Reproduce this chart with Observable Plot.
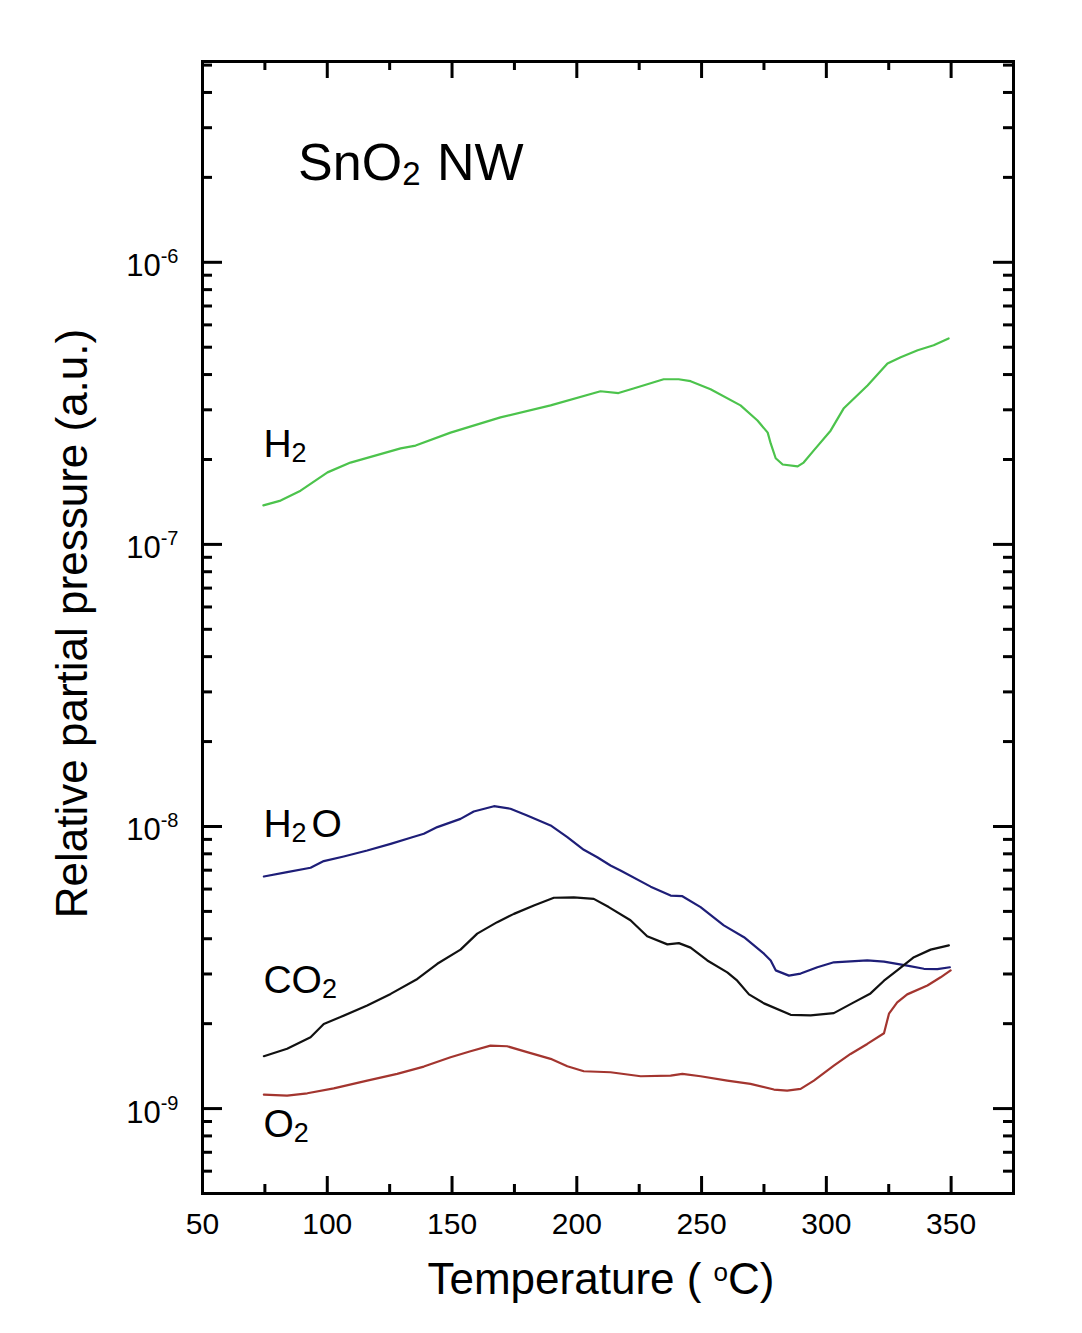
<!DOCTYPE html>
<html><head><meta charset="utf-8">
<script src="https://cdn.jsdelivr.net/npm/d3@7"></script>
<script src="https://cdn.jsdelivr.net/npm/@observablehq/plot@0.6"></script>
<style>
html,body{margin:0;padding:0;background:#fff}
#chart svg{display:block}
</style>
</head><body><div id="chart"></div>
<script>
// ---- data ----
const h2Temp = [74.4,81.3,89.3,100.1,109.3,129.4,135.4,149.4,169.4,189.5,209.5,216.7,222.7,234.8,240.8,245.6,253.6,265.6,272.4,276.5,277.7,279.7,282.5,288.5,290.9,294.9,301.7,306.9,316.5,324.5,329.8,336.6,343.0,349.0];
const h2Val  = [1.375e-7,1.43e-7,1.55e-7,1.80e-7,1.95e-7,2.19e-7,2.24e-7,2.49e-7,2.82e-7,3.11e-7,3.49e-7,3.44e-7,3.57e-7,3.85e-7,3.85e-7,3.79e-7,3.55e-7,3.11e-7,2.75e-7,2.49e-7,2.28e-7,2.02e-7,1.92e-7,1.89e-7,1.95e-7,2.15e-7,2.53e-7,3.03e-7,3.66e-7,4.38e-7,4.61e-7,4.88e-7,5.08e-7,5.37e-7];

const h2oTemp = [74.6,83.9,93.3,98.6,106.6,116.0,125.4,133.4,138.7,144.1,153.4,158.7,166.8,173.4,180.1,189.5,196.2,202.8,208.2,213.5,217.5,229.6,237.6,242.3,249.6,258.9,267.0,275.0,277.7,279.7,285.0,289.7,296.4,303.0,316.4,323.1,332.4,339.1,344.5,349.5];
const h2oVal  = [6.65e-9,6.89e-9,7.14e-9,7.54e-9,7.83e-9,8.22e-9,8.68e-9,9.12e-9,9.42e-9,9.95e-9,1.064e-8,1.13e-8,1.18e-8,1.156e-8,1.094e-8,1.009e-8,9.17e-9,8.27e-9,7.78e-9,7.27e-9,6.98e-9,6.12e-9,5.69e-9,5.66e-9,5.18e-9,4.46e-9,4.05e-9,3.54e-9,3.35e-9,3.09e-9,2.96e-9,3.01e-9,3.17e-9,3.30e-9,3.35e-9,3.32e-9,3.21e-9,3.13e-9,3.12e-9,3.17e-9];

const co2Temp = [74.6,83.9,93.3,98.6,105.3,116.0,125.4,136.1,144.1,153.4,160.1,168.1,174.8,182.8,190.8,198.8,206.8,212.8,221.5,228.2,236.3,240.9,245.6,252.3,260.3,264.3,269.0,275.0,285.7,293.7,303.0,311.0,317.7,323.1,328.4,335.1,341.8,349.1];
const co2Val  = [1.533e-9,1.629e-9,1.791e-9,1.996e-9,2.11e-9,2.32e-9,2.55e-9,2.88e-9,3.26e-9,3.66e-9,4.17e-9,4.58e-9,4.90e-9,5.25e-9,5.59e-9,5.61e-9,5.54e-9,5.18e-9,4.65e-9,4.08e-9,3.82e-9,3.86e-9,3.72e-9,3.35e-9,3.04e-9,2.84e-9,2.54e-9,2.36e-9,2.15e-9,2.14e-9,2.18e-9,2.38e-9,2.56e-9,2.84e-9,3.09e-9,3.44e-9,3.66e-9,3.79e-9];

const o2Temp = [74.6,83.9,92.0,102.6,116.0,128.0,138.7,149.4,157.4,165.4,172.1,180.1,189.5,196.2,202.8,213.5,225.6,237.6,242.3,249.6,260.3,269.6,279.0,284.3,289.7,295.0,303.0,309.7,316.4,323.1,325.1,328.4,332.4,340.5,345.8,349.8];
const o2Val  = [1.121e-9,1.112e-9,1.133e-9,1.180e-9,1.256e-9,1.327e-9,1.409e-9,1.521e-9,1.597e-9,1.672e-9,1.663e-9,1.585e-9,1.501e-9,1.413e-9,1.356e-9,1.345e-9,1.302e-9,1.309e-9,1.327e-9,1.302e-9,1.257e-9,1.224e-9,1.168e-9,1.158e-9,1.174e-9,1.257e-9,1.419e-9,1.562e-9,1.695e-9,1.849e-9,2.17e-9,2.38e-9,2.54e-9,2.73e-9,2.92e-9,3.09e-9];

const gasNames  = ["H_{2}", "H_{2}O", "CO_{2}", "O_{2}"];
const gasLabelT = [74.4, 74.4, 74.4, 74.4];
const gasLabelV = [2.26e-7, 1.02e-8, 2.84e-9, 8.75e-10];
const gasColors = ["#4cc34c", "#1e1e78", "#111111", "#a3352f"];

const titleText = "SnO_{2} NW";
const titleT = 88.3, titleV = 2.24e-6;

const xTicks = [50, 100, 150, 200, 250, 300, 350];
const xMinorTicks = [75, 125, 175, 225, 275, 325];
const yTicks = [1e-9, 1e-8, 1e-7, 1e-6];
const yMinorTicks = [];
for (const dec of [1e-10, 1e-9, 1e-8, 1e-7, 1e-6]) for (let m = 2; m <= 9; m++) {
  const v = m * dec; if (v >= 5e-10 && v <= 5e-6) yMinorTicks.push(v);
}
const xLabel = "Temperature ( ^{o}C)";
const yLabel = "Relative partial pressure (a.u.)";

// ---- build ----
const W = 1082, H = 1333, ML = 202, MR = 69, MT = 61, MB = 140;
const PW = W - ML - MR, PH = H - MT - MB;
const FONT = "'Liberation Sans', Arial, Helvetica, sans-serif";
const FS_YTICK = 31, FS_XTICK = 30, FS_XTITLE = 44, FS_YTITLE = 44, FS_GAS = 39, FS_TITLE = 52;

const toRows = (T, V) => T.map((t, i) => ({T: t, v: V[i]}));
const series = [toRows(h2Temp, h2Val), toRows(h2oTemp, h2oVal), toRows(co2Temp, co2Val), toRows(o2Temp, o2Val)];
const labelRows = gasNames.map((n, i) => ({name: n, T: gasLabelT[i], v: gasLabelV[i]}));

const svg = Plot.plot({
  width: W, height: H,
  marginLeft: ML, marginRight: MR, marginTop: MT, marginBottom: MB,
  style: {fontFamily: FONT, background: "#fff", color: "#000", overflow: "visible"},
  x: {type: "linear", domain: [50, 375], axis: null},
  y: {type: "log", domain: [5e-10, 5.15e-6], axis: null},
  marks: [
    ...series.map((rows, i) => Plot.line(rows, {x: "T", y: "v", stroke: gasColors[i], strokeWidth: 2.2})),
    // ticks (inward, mirrored)
    Plot.tickY(yTicks, {y: d => d, insetRight: PW - 20, stroke: "#000", strokeWidth: 3}),
    Plot.tickY(yTicks, {y: d => d, insetLeft: PW - 20, stroke: "#000", strokeWidth: 3}),
    Plot.tickY(yMinorTicks, {y: d => d, insetRight: PW - 10, stroke: "#000", strokeWidth: 3}),
    Plot.tickY(yMinorTicks, {y: d => d, insetLeft: PW - 10, stroke: "#000", strokeWidth: 3}),
    Plot.tickX(xTicks, {x: d => d, insetTop: PH - 17, stroke: "#000", strokeWidth: 3}),
    Plot.tickX(xTicks, {x: d => d, insetBottom: PH - 17, stroke: "#000", strokeWidth: 3}),
    Plot.tickX(xMinorTicks, {x: d => d, insetTop: PH - 9, stroke: "#000", strokeWidth: 3}),
    Plot.tickX(xMinorTicks, {x: d => d, insetBottom: PH - 9, stroke: "#000", strokeWidth: 3}),
    Plot.frame({stroke: "#000", strokeWidth: 3}),
    // tick labels
    Plot.text(yTicks, {y: d => d, frameAnchor: "left", text: d => "10^{" + Math.round(Math.log10(d)) + "}",
      textAnchor: "end", dx: -24, dy: 4, fontSize: FS_YTICK, fill: "#000"}),
    Plot.text(xTicks, {x: d => d, frameAnchor: "bottom", text: d => String(d),
      lineAnchor: "top", dy: 19, fontSize: FS_XTICK, fill: "#000"}),
    // axis titles
    Plot.text([xLabel], {frameAnchor: "bottom", text: d => d, textAnchor: "middle", lineAnchor: "top", dy: 69, dx: -7,
      fontSize: FS_XTITLE, fill: "#000"}),
    Plot.text([yLabel], {frameAnchor: "left", text: d => d, textAnchor: "middle", rotate: -90, dx: -130, dy: -4,
      fontSize: FS_YTITLE, fill: "#000"}),
    // annotations
    Plot.text(labelRows, {x: "T", y: "v", text: "name", textAnchor: "start", fontSize: FS_GAS, fill: "#000"}),
    Plot.text([titleText], {x: () => titleT, y: () => titleV, text: d => d, textAnchor: "start", fontSize: FS_TITLE, fill: "#000"})
  ]
});
document.getElementById("chart").appendChild(svg);

// rich text: _{..} subscript, ^{..} superscript; config chosen by the mark's font size
const rich = {
  [FS_YTICK]:  {supSize: 20, supShift: -13},
  [FS_XTITLE]: {supSize: 26, supShift: -13},
  [FS_GAS]:    {subSize: 27, subShift: 5, afterSub: 5},
  [FS_TITLE]:  {subSize: 33, subShift: 5, afterSub: 2}
};
d3.select(svg).selectAll("text").each(function() {
  const s = this.textContent;
  if (!/[\^_]\{/.test(s)) return;
  const g = this.closest("[font-size]");
  const fs = g ? Math.round(parseFloat(g.getAttribute("font-size"))) : Math.round(parseFloat(getComputedStyle(this).fontSize));
  const cfg = rich[fs] || {supSize: fs * 0.65, supShift: -fs * 0.42, subSize: fs * 0.7, subShift: fs * 0.13};
  const el = d3.select(this);
  const parts = s.split(/(\^\{[^}]*\}|_\{[^}]*\})/).filter(p => p !== "");
  el.text(null);
  let cur = 0, prevSub = false;
  parts.forEach(p => {
    const t = el.append("tspan");
    let target = 0, body = p, isSub = false;
    if (p.startsWith("^{")) { body = p.slice(2, -1); target = cfg.supShift; t.attr("font-size", cfg.supSize); }
    else if (p.startsWith("_{")) { body = p.slice(2, -1); target = cfg.subShift; t.attr("font-size", cfg.subSize); isSub = true; }
    if (target - cur !== 0) t.attr("dy", target - cur);
    if (prevSub && cfg.afterSub) t.attr("dx", cfg.afterSub);
    cur = target; prevSub = isSub;
    t.text(body);
  });
});
</script>
</body></html>
